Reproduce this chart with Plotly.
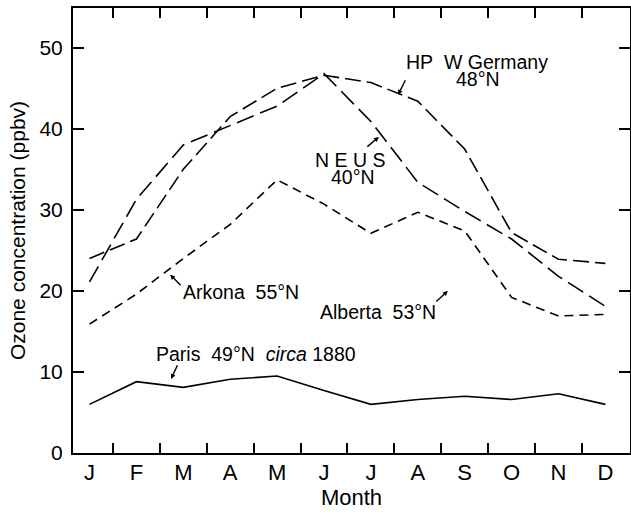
import plotly.graph_objects as go

months = ["J", "F", "M", "A", "M", "J", "J", "A", "S", "O", "N", "D"]
hp_w_germany = [24.0, 26.4, 35.0, 41.5, 45.0, 46.6, 45.7, 43.4, 37.5, 27.2, 23.9, 23.4]
ne_us = [21.1, 31.3, 38.0, 40.4, 42.8, 46.8, 40.9, 33.4, 29.8, 26.4, 21.8, 18.1]
arkona_alberta = [15.9, 19.6, 24.0, 28.2, 33.7, 30.7, 27.1, 29.7, 27.4, 19.2, 16.9, 17.1]
paris_1880 = [6.0, 8.8, 8.1, 9.1, 9.5, 7.7, 6.0, 6.6, 7.0, 6.6, 7.3, 6.0]

x = list(range(len(months)))
FONT = "Liberation Sans, Arial, sans-serif"

fig = go.Figure()
fig.add_trace(go.Scatter(x=x, y=hp_w_germany, mode="lines", name="HP W Germany 48°N",
                         line=dict(color="black", width=1.6, dash="16px,6px")))
fig.add_trace(go.Scatter(x=x, y=ne_us, mode="lines", name="N E US 40°N",
                         line=dict(color="black", width=1.6, dash="18px,7px")))
fig.add_trace(go.Scatter(x=x, y=arkona_alberta, mode="lines", name="Arkona 55°N / Alberta 53°N",
                         line=dict(color="black", width=1.6, dash="9px,6px")))
fig.add_trace(go.Scatter(x=x, y=paris_1880, mode="lines", name="Paris 49°N circa 1880",
                         line=dict(color="black", width=1.6)))
# invisible trace for the top tick axis
fig.add_trace(go.Scatter(x=x, y=paris_1880, xaxis="x2", mode="lines",
                         line=dict(width=0), hoverinfo="skip", showlegend=False, opacity=0))

NB = "\u00a0"
texts = [
    ("HP" + NB * 2 + "W Germany", 8.26, 48.3),
    ("48°N", 8.28, 46.2),
    ("N E U S", 5.55, 36.2),
    ("40°N", 5.62, 34.1),
    ("Arkona" + NB * 2 + "55°N", 3.23, 19.9),
    ("Alberta" + NB * 2 + "53°N", 6.15, 17.4),
    ("Paris" + NB * 2 + "49°N" + NB * 2 + "<i>circa</i> 1880", 3.55, 12.2),
]
for t, tx, ty in texts:
    fig.add_annotation(x=tx, y=ty, text=t, showarrow=False, borderpad=0,
                       font=dict(family=FONT, size=19.5, color="black"),
                       xanchor="center", yanchor="middle")

arrows = [
    (6.58, 44.2, 8, -16),
    (6.17, 39.0, -13, 11),
    (1.72, 22.0, 12, 12),
    (7.64, 20.0, -13, 12),
    (1.74, 9.14, 7, -15),
]
for hx, hy, axp, ayp in arrows:
    fig.add_annotation(x=hx, y=hy, ax=axp, ay=ayp, text="", showarrow=True,
                       arrowhead=2, arrowsize=0.7, arrowwidth=1.4, arrowcolor="black",
                       standoff=0, startstandoff=0)

fig.update_layout(
    width=631, height=512,
    margin=dict(l=73, r=1, t=8, b=59),
    plot_bgcolor="white", paper_bgcolor="white",
    showlegend=False,
    font=dict(family=FONT, color="black"),
    xaxis=dict(
        range=[-0.352, 11.525], automargin=False,
        tickmode="array", tickvals=x, ticktext=months, ticks="",
        tickfont=dict(size=22), ticklabelstandoff=-1,
        showgrid=False, zeroline=False,
        showline=True, linecolor="black", linewidth=2, mirror=True,
        minor=dict(tickmode="array", tickvals=[i + 0.5 for i in range(11)],
                   ticks="inside", ticklen=10, tickwidth=2, tickcolor="black", showgrid=False),
        title=dict(text="Month", font=dict(size=22), standoff=4),
    ),
    xaxis2=dict(
        overlaying="x", matches="x", side="top", anchor="y", automargin=False,
        range=[-0.352, 11.525],
        tickmode="array", tickvals=[i + 0.5 for i in range(11)],
        ticks="inside", ticklen=10, tickwidth=2, tickcolor="black",
        showticklabels=False, showgrid=False, zeroline=False, showline=False,
    ),
    yaxis=dict(
        range=[0, 54.9], automargin=False,
        tickmode="array", tickvals=[0, 10, 20, 30, 40, 50],
        ticks="inside", ticklen=11, tickwidth=2, tickcolor="black",
        tickfont=dict(size=21), ticklabelstandoff=4,
        showgrid=False, zeroline=False,
        showline=True, linecolor="black", linewidth=2, mirror="ticks",
        title=dict(text="Ozone concentration (ppbv)", font=dict(size=21), standoff=8),
    ),
)

fig.write_html("out.html", config={"displayModeBar": False},
               post_script="document.body.style.margin='0px';")
